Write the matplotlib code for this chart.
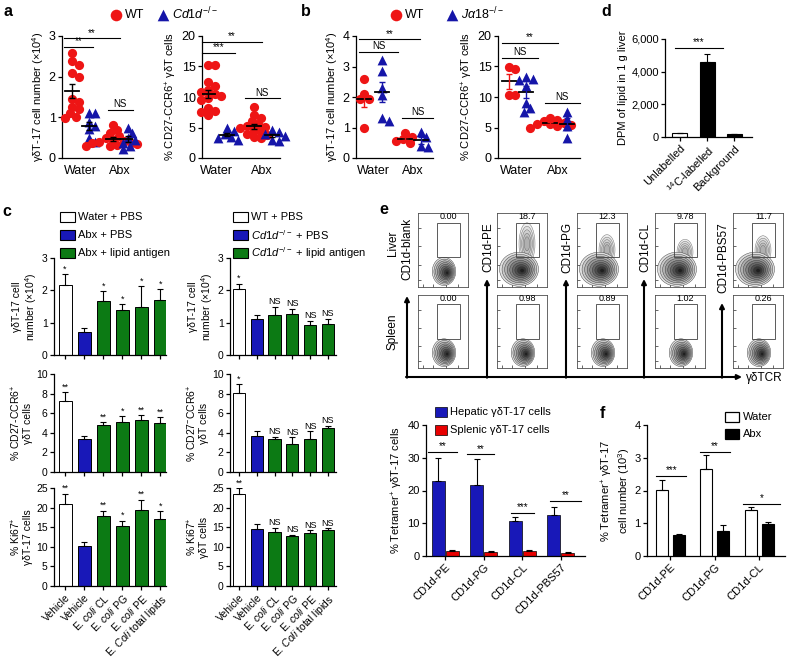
import numpy as np
import matplotlib
matplotlib.use("Agg")
import matplotlib.pyplot as plt
from matplotlib.patches import Rectangle, Ellipse

plt.rcParams['font.family'] = ['Liberation Sans', 'DejaVu Sans']
plt.rcParams['mathtext.fontset'] = 'custom'
plt.rcParams['mathtext.rm'] = 'Liberation Sans'
plt.rcParams['mathtext.it'] = 'Liberation Sans:italic'
plt.rcParams['mathtext.bf'] = 'Liberation Sans:bold'
plt.rcParams['axes.linewidth'] = 0.9

W, H = 788, 660
RED = '#ee1515'
BLUE = '#1515a8'
BARBLUE = '#1818b8'
GREEN = '#0c7a14'

# ---------------- data ----------------
groups_ab = ['Water', 'Abx']

# panel a (WT vs Cd1d-/-)
a1_wt_water = [2.58, 2.38, 2.28, 2.1, 2.0, 1.45, 1.37, 1.25, 1.2, 1.1, 1.0, 0.98]
a1_ko_water = [1.1, 1.1, 0.88, 0.78, 0.72, 0.5, 0.4]
a1_wt_abx = [0.82, 0.7, 0.62, 0.55, 0.5, 0.45, 0.42, 0.4, 0.38, 0.36, 0.35, 0.33, 0.3, 0.3]
a1_ko_abx = [0.75, 0.62, 0.5, 0.45, 0.38, 0.3, 0.22]
a2_wt_water = [15.2, 15.2, 12.4, 11.8, 11.2, 10.8, 10.5, 10.2, 9.8, 9.5, 8.2, 7.7, 7.5, 7.0]
a2_ko_water = [4.9, 4.5, 3.9, 3.5, 3.2, 3.0]
a2_wt_abx = [8.4, 7.1, 6.6, 6.1, 5.6, 5.3, 5.1, 4.9, 4.6, 4.3, 4.0, 3.8, 3.5, 3.2]
a2_ko_abx = [4.6, 4.3, 4.0, 3.6, 3.0, 2.8]

# panel b (WT vs Ja18-/-)
b1_wt_water = [2.6, 2.1, 1.95, 1.95, 1.0]
b1_ko_water = [3.2, 2.85, 2.3, 2.05, 1.3, 1.2]
b1_wt_abx = [0.82, 0.7, 0.62, 0.55, 0.5]
b1_ko_abx = [0.85, 0.7, 0.4, 0.35]
b2_wt_water = [14.9, 14.6, 10.4, 10.4]
b2_ko_water = [13.3, 13.0, 12.8, 11.8, 9.0, 8.2, 7.5]
b2_wt_abx = [6.6, 6.3, 6.0, 5.8, 5.6, 5.5, 5.4, 5.2, 5.0]
b2_ko_abx = [7.6, 6.4, 5.2, 3.2]

# panel d
d_labels = ['Unlabelled', r'$^{14}$C-labelled', 'Background']
d_vals = [250, 4580, 180]
d_errs = [20, 520, 20]

# panel c
c_labels = ['Vehicle', 'Vehicle', r'E. $\mathit{coli}$ CL', r'E. $\mathit{coli}$ PG',
            r'E. $\mathit{coli}$ PE', r'E. $\mathit{Coli}$ total lipids']
c_legend_left = ['Water + PBS', 'Abx + PBS', 'Abx + lipid antigen']
c_legend_right = ['WT + PBS', r'$\mathit{Cd1d}^{-/-}$ + PBS', r'$\mathit{Cd1d}^{-/-}$ + lipid antigen']
c1_vals = [2.17, 0.70, 1.68, 1.40, 1.50, 1.70]
c1_errs = [0.33, 0.15, 0.30, 0.17, 0.62, 0.33]
c1_sig = ['*', '', '*', '*', '*', '*']
c2_vals = [7.2, 3.4, 4.8, 5.1, 5.35, 5.0]
c2_errs = [0.95, 0.25, 0.3, 0.6, 0.45, 0.6]
c2_sig = ['**', '', '**', '*', '**', '**']
c3_vals = [20.9, 10.3, 17.9, 15.3, 19.5, 17.2]
c3_errs = [2.6, 0.8, 1.3, 1.4, 2.5, 1.9]
c3_sig = ['**', '', '**', '*', '**', '*']
c4_vals = [2.05, 1.10, 1.25, 1.28, 0.93, 0.97]
c4_errs = [0.15, 0.15, 0.25, 0.15, 0.12, 0.15]
c4_sig = ['*', '', 'NS', 'NS', 'NS', 'NS']
c5_vals = [8.1, 3.7, 3.4, 2.9, 3.4, 4.5]
c5_errs = [0.85, 0.45, 0.2, 0.65, 0.75, 0.2]
c5_sig = ['*', '', 'NS', 'NS', 'NS', 'NS']
c6_vals = [23.5, 14.5, 13.7, 12.7, 13.5, 14.4]
c6_errs = [1.4, 1.4, 1.1, 0.3, 0.7, 0.3]
c6_sig = ['**', '', 'NS', 'NS', 'NS', 'NS']

# panel e (flow)
flow_stains = ['CD1d-blank', 'CD1d-PE', 'CD1d-PG', 'CD1d-CL', 'CD1d-PBS57']
liver_pct = [0.00, 18.7, 12.3, 9.78, 11.7]
spleen_pct = [0.00, 0.98, 0.89, 1.02, 0.26]

# panel e (bars)
e_labels = ['CD1d-PE', 'CD1d-PG', 'CD1d-CL', 'CD1d-PBS57']
e_hepatic = [23.0, 21.8, 10.7, 12.4]
e_hepatic_err = [7.0, 7.8, 1.3, 2.6]
e_splenic = [1.4, 1.2, 1.5, 1.0]
e_splenic_err = [0.3, 0.3, 0.3, 0.2]
e_sig = ['**', '**', '***', '**']

# panel f
f_labels = ['CD1d-PE', 'CD1d-PG', 'CD1d-CL']
f_water = [2.02, 2.65, 1.40]
f_water_err = [0.30, 0.42, 0.10]
f_abx = [0.63, 0.75, 0.97]
f_abx_err = [0.04, 0.20, 0.08]
f_sig = ['***', '**', '*']

fig = plt.figure(figsize=(W / 100, H / 100), dpi=100)


def px_axes(x0, y0, x1, y1):
    return fig.add_axes([x0 / W, 1 - y1 / H, (x1 - x0) / W, (y1 - y0) / H])


def style(ax, fs=8):
    for s in ['top', 'right']:
        ax.spines[s].set_visible(False)
    ax.tick_params(direction='out', length=3, width=0.9, labelsize=fs, pad=1.5)


def sig_line(ax, x0, x1, y, txt, fs=7):
    ax.plot([x0, x1], [y, y], color='k', lw=0.8, clip_on=False)
    ax.annotate(txt, ((x0 + x1) / 2, y), xytext=(0, 0.5), textcoords='offset points',
                ha='center', va='bottom', fontsize=fs, annotation_clip=False)


def swarm_x(ax, vals, center, d=7.5):
    pos = ax.get_position()
    x0, x1 = ax.get_xlim()
    y0, y1 = ax.get_ylim()
    sx = pos.width * W / (x1 - x0)
    sy = pos.height * H / (y1 - y0)
    placed = []
    xs = []
    for v in vals:
        yp = v * sy
        for k in range(80):
            off = ((k + 1) // 2) * d * 0.3 * (1 if k % 2 else -1)
            if all(np.hypot(off - px, yp - py) >= d * 0.85 for px, py in placed):
                break
        placed.append((off, yp))
        xs.append(center + off / sx)
    return xs, sx


def scatter_panel(ax, groups, ymax, yticks, xlim, ylabel, color_err=False):
    style(ax, 9)
    ax.set_xlim(*xlim)
    ax.set_ylim(0, ymax)
    ax.set_yticks(yticks)
    ax.set_xticks([1, 2])
    ax.set_xticklabels(groups_ab)
    ax.tick_params(axis='x', length=0, pad=5)
    ax.set_ylabel(ylabel, fontsize=8, labelpad=2)
    for vals, c, col, mk in groups:
        xs, sx = swarm_x(ax, vals, c)
        ax.scatter(xs, vals, s=44 if mk == 'o' else 50, c=col, marker=mk, linewidths=0,
                   zorder=3, clip_on=False)
        m = np.mean(vals)
        sem = np.std(vals, ddof=1) / np.sqrt(len(vals))
        half = 7 / sx
        ax.plot([c - half, c + half], [m, m], color='k', lw=1.3, zorder=4)
        ax.errorbar(c, m, yerr=sem, fmt='none', ecolor=col if color_err else 'k',
                    elinewidth=1, capsize=2.5, capthick=1, zorder=4)


def bar_panel(ax, vals, errs, stars, ymax, yticks, xlim, ylabel, xlabels=None):
    style(ax, 7.5)
    colors = ['white', BARBLUE, GREEN, GREEN, GREEN, GREEN]
    x = np.arange(len(vals))
    ax.bar(x, vals, width=0.68, color=colors, edgecolor='k', lw=0.7, zorder=2)
    ax.errorbar(x, vals, yerr=[np.zeros(len(vals)), errs], fmt='none', ecolor='k',
                elinewidth=0.8, capsize=2.5, capthick=0.8, zorder=3)
    for xi, v, e, s in zip(x, vals, errs, stars):
        if s:
            ax.annotate(s, (xi, v + e), xytext=(0, 0.5), textcoords='offset points',
                        ha='center', va='bottom', fontsize=6.5)
    ax.set_xlim(*xlim)
    ax.set_ylim(0, ymax)
    ax.set_yticks(yticks)
    ax.set_xticks(x)
    if xlabels is None:
        ax.set_xticklabels([])
    else:
        ax.set_xticklabels(xlabels, rotation=45, ha='right', rotation_mode='anchor', fontsize=7.5)
    ax.set_ylabel(ylabel, fontsize=7.5, labelpad=2, linespacing=1.1)


# ---------------- panel a ----------------
ax = px_axes(62, 36, 133, 158)
scatter_panel(ax, [(a1_wt_water, 0.8, RED, 'o'), (a1_ko_water, 1.22, BLUE, '^'),
                   (a1_wt_abx, 1.82, RED, 'o'), (a1_ko_abx, 2.2, BLUE, '^')],
              3, [0, 1, 2, 3], (0.55, 2.33), r'γδT-17 cell number (×10$^{4}$)')
sig_line(ax, 0.6, 2.0, 2.94, '**')
sig_line(ax, 0.6, 1.33, 2.74, '**')
sig_line(ax, 1.7, 2.33, 1.19, 'NS')

ax = px_axes(202, 36, 280, 158)
scatter_panel(ax, [(a2_wt_water, 0.8, RED, 'o'), (a2_ko_water, 1.22, BLUE, '^'),
                   (a2_wt_abx, 1.82, RED, 'o'), (a2_ko_abx, 2.22, BLUE, '^')],
              20, [0, 5, 10, 15, 20], (0.67, 2.4), r'% CD27-CCR6$^{+}$ γδT cells')
sig_line(ax, 0.67, 2.0, 19.0, '**')
sig_line(ax, 0.67, 1.4, 17.2, '***')
sig_line(ax, 1.62, 2.4, 9.8, 'NS')

# ---------------- panel b ----------------
ax = px_axes(356, 36, 433, 158)
scatter_panel(ax, [(b1_wt_water, 0.78, RED, 'o'), (b1_ko_water, 1.22, BLUE, '^'),
                   (b1_wt_abx, 1.8, RED, 'o'), (b1_ko_abx, 2.2, BLUE, '^')],
              4, [0, 1, 2, 3, 4], (0.575, 2.5), r'γδT-17 cell number (×10$^{4}$)', color_err=True)
sig_line(ax, 0.65, 2.18, 3.89, '**')
sig_line(ax, 0.65, 1.63, 3.49, 'NS')
sig_line(ax, 1.73, 2.5, 1.31, 'NS')

ax = px_axes(498, 36, 580, 158)
scatter_panel(ax, [(b2_wt_water, 0.8, RED, 'o'), (b2_ko_water, 1.22, BLUE, '^'),
                   (b2_wt_abx, 1.82, RED, 'o'), (b2_ko_abx, 2.22, BLUE, '^')],
              20, [0, 5, 10, 15, 20], (0.54, 2.54), r'% CD27-CCR6$^{+}$ γδT cells', color_err=True)
sig_line(ax, 0.63, 2.0, 18.9, '**')
sig_line(ax, 0.63, 1.51, 16.4, 'NS')
sig_line(ax, 1.68, 2.54, 9.0, 'NS')

# ---------------- panel d ----------------
ax = px_axes(665, 39, 752, 137)
style(ax, 8)
xd = np.arange(3)
ax.bar(xd, d_vals, width=0.55, color=['white', 'black', 'black'], edgecolor='k', lw=0.8)
ax.errorbar(xd, d_vals, yerr=[np.zeros(3), d_errs], fmt='none', ecolor='k',
            elinewidth=0.8, capsize=2.5, capthick=0.8)
ax.set_xlim(-0.55, 2.65)
ax.set_ylim(0, 6000)
ax.set_yticks([0, 2000, 4000, 6000])
ax.set_yticklabels(['{:,}'.format(v) for v in [0, 2000, 4000, 6000]])
ax.set_xticks(xd)
ax.set_xticklabels(d_labels, rotation=45, ha='right', rotation_mode='anchor', fontsize=8)
ax.set_ylabel('DPM of lipid in 1 g liver', fontsize=8, labelpad=2)
sig_line(ax, -0.2, 1.6, 5450, '***')

# ---------------- panel c ----------------
bar_panel(px_axes(54, 258, 166, 355), c1_vals, c1_errs, c1_sig, 3, [0, 1, 2, 3], (-0.58, 5.3),
          'γδT-17 cell\n' + r'number (×10$^{4}$)')
bar_panel(px_axes(54, 374, 166, 472), c2_vals, c2_errs, c2_sig, 10, [0, 2, 4, 6, 8, 10], (-0.58, 5.3),
          r'% CD27-CCR6$^{+}$' + '\nγδT cells')
bar_panel(px_axes(54, 488, 166, 586), c3_vals, c3_errs, c3_sig, 25, [0, 5, 10, 15, 20, 25], (-0.58, 5.3),
          r'% Ki67$^{+}$' + '\nγδT-17 cells', xlabels=c_labels)
bar_panel(px_axes(230, 258, 336, 355), c4_vals, c4_errs, c4_sig, 3, [0, 1, 2, 3], (-0.5, 5.45),
          'γδT-17 cell\n' + r'number (×10$^{4}$)')
bar_panel(px_axes(230, 374, 336, 472), c5_vals, c5_errs, c5_sig, 10, [0, 2, 4, 6, 8, 10], (-0.5, 5.45),
          r'% CD27$^{-}$CCR6$^{+}$' + '\nγδT cells')
bar_panel(px_axes(230, 488, 336, 586), c6_vals, c6_errs, c6_sig, 25, [0, 5, 10, 15, 20, 25], (-0.5, 5.45),
          r'% Ki67$^{+}$' + '\nγδT cells', xlabels=c_labels)

# ---------------- panel e: flow plots ----------------
def flow_blob(ax, cx, cy, w, h, n=9):
    for k in range(n):
        f = 1 - k / n
        g = 0.88 - 0.76 * k / (n - 1)
        ax.add_patch(Ellipse((cx + 0.07 * (1 - f), cy - 0.02 * (1 - f)), w * f, h * f,
                             transform=ax.transAxes, fc=str(g), ec='0.2', lw=0.3, zorder=2))


def flow_lobe(ax, pct):
    hgt = 0.1 + pct / 40
    for k in range(5):
        f = 1 - k / 6
        ax.add_patch(Ellipse((0.6, 0.3 + hgt / 2), 0.32 * f, hgt * f, transform=ax.transAxes,
                             fc=str(0.93 - 0.06 * k), ec='0.4', lw=0.3, zorder=1))


def pct_txt(v):
    return '{:.2f}'.format(v) if v < 10 else '{:.1f}'.format(v)


flow_x = [418, 497, 577, 655, 733]
for i, name in enumerate(flow_stains):
    for row, pcts, top, bot in [(0, liver_pct, 213, 287), (1, spleen_pct, 295, 368)]:
        fa = px_axes(flow_x[i], top, flow_x[i] + 50, bot)
        fa.set_xlim(0, 1)
        fa.set_ylim(0, 1)
        for s in fa.spines.values():
            s.set_linewidth(0.6)
            s.set_color('0.3')
        fa.set_xticks([0.1, 0.3, 0.55, 0.8])
        fa.set_yticks([0.1, 0.3, 0.55, 0.8])
        fa.set_xticklabels([])
        fa.set_yticklabels([])
        fa.tick_params(direction='in', length=2, width=0.6, color='0.3')
        v = pcts[i]
        if row == 0 and v > 5:
            flow_lobe(fa, v)
        if row == 0 and i > 0:
            flow_blob(fa, 0.44, 0.24, 0.78, 0.46)
        else:
            flow_blob(fa, 0.52, 0.21, 0.47, 0.38)
        fa.add_patch(Rectangle((0.38, 0.40), 0.46, 0.47, transform=fa.transAxes,
                               fill=False, ec='0.25', lw=0.6, zorder=3))
        fa.text(0.61, 0.89, pct_txt(v), transform=fa.transAxes, ha='center', va='bottom',
                fontsize=6.5)

# ---------------- panel e: bars ----------------
ax = px_axes(426, 425, 585, 556)
style(ax, 8)
xe = np.arange(4)
ax.bar(xe - 0.18, e_hepatic, 0.34, color=BARBLUE, edgecolor='k', lw=0.5)
ax.bar(xe + 0.18, e_splenic, 0.34, color='#e80000', edgecolor='k', lw=0.5)
ax.errorbar(xe - 0.18, e_hepatic, yerr=[np.zeros(4), e_hepatic_err], fmt='none', ecolor='k',
            elinewidth=0.8, capsize=2.5, capthick=0.8)
ax.errorbar(xe + 0.18, e_splenic, yerr=[np.zeros(4), e_splenic_err], fmt='none', ecolor='k',
            elinewidth=0.8, capsize=2.5, capthick=0.8)
ax.set_xlim(-0.5, 3.63)
ax.set_ylim(0, 40)
ax.set_yticks([0, 10, 20, 30, 40])
ax.set_xticks(xe)
ax.set_xticklabels(e_labels, rotation=45, ha='right', rotation_mode='anchor', fontsize=8)
ax.set_ylabel(r'% Tetramer$^{+}$ γδT-17 cells', fontsize=8, labelpad=2)
for (x0, x1, y), s in zip([(-0.44, 0.31, 31.7), (0.57, 1.26, 31.0), (1.7, 2.3, 13.2), (2.72, 3.52, 16.8)], e_sig):
    sig_line(ax, x0, x1, y, s)

# ---------------- panel f ----------------
ax = px_axes(647, 425, 785, 556)
style(ax, 8)
xf = np.arange(3)
ax.bar(xf - 0.19, f_water, 0.27, color='white', edgecolor='k', lw=0.8)
ax.bar(xf + 0.19, f_abx, 0.27, color='black', edgecolor='k', lw=0.8)
ax.errorbar(xf - 0.19, f_water, yerr=[np.zeros(3), f_water_err], fmt='none', ecolor='k',
            elinewidth=0.8, capsize=2.5, capthick=0.8)
ax.errorbar(xf + 0.19, f_abx, yerr=[np.zeros(3), f_abx_err], fmt='none', ecolor='k',
            elinewidth=0.8, capsize=2.5, capthick=0.8)
ax.set_xlim(-0.52, 2.58)
ax.set_ylim(0, 4)
ax.set_yticks([0, 1, 2, 3, 4])
ax.set_xticks(xf)
ax.set_xticklabels(f_labels, rotation=45, ha='right', rotation_mode='anchor', fontsize=8)
ax.set_ylabel(r'% Tetramer$^{+}$ γδT-17' + '\n' + r'cell number (10$^{3}$)', fontsize=8,
              labelpad=2, linespacing=1.1)
for (x0, x1, y), s in zip([(-0.31, 0.36, 2.44), (0.67, 1.35, 3.18), (1.64, 2.47, 1.59)], f_sig):
    sig_line(ax, x0, x1, y, s)

# ---------------- overlay: letters, legends, arrows ----------------
ov = fig.add_axes([0, 0, 1, 1])
ov.set_xlim(0, W)
ov.set_ylim(H, 0)
ov.axis('off')

for letter, (lx, ly) in zip('abcdef', [(8, 12), (306, 11), (7, 211), (606, 11), (384, 210), (602, 413)]):
    ov.text(lx, ly, letter, fontsize=11.5, fontweight='bold', ha='center', va='center')

# legends a, b
for (cx, tx_lbl, cx2, ko_lbl) in [(116, 'WT', 163, r'$\mathit{Cd1d}^{-/-}$'),
                                   (396, 'WT', 452, r'$\mathit{J\alpha18}^{-/-}$')]:
    ov.scatter([cx], [15], s=70, c=RED, marker='o', linewidths=0)
    ov.text(cx + 9, 15, tx_lbl, fontsize=9, va='center')
    ov.scatter([cx2], [15], s=70, c=BLUE, marker='^', linewidths=0)
    ov.text(cx2 + 9, 14, ko_lbl, fontsize=9, va='center')

# legends c
for bx, labels in [(60, c_legend_left), (233, c_legend_right)]:
    for lbl, col, yc in zip(labels, ['white', BARBLUE, GREEN], [217, 235, 253]):
        ov.add_patch(Rectangle((bx, yc - 5), 15, 10, fc=col, ec='k', lw=0.8))
        ov.text(bx + 18, yc, lbl, fontsize=8, va='center')

# legend e
for lbl, col, yc in zip(['Hepatic γδT-17 cells', 'Splenic γδT-17 cells'], [BARBLUE, '#e80000'], [412, 430]):
    ov.add_patch(Rectangle((435, yc - 5), 12, 10, fc=col, ec='k', lw=0.5))
    ov.text(450, yc, lbl, fontsize=8, va='center')

# legend f
for lbl, col, yc in zip(['Water', 'Abx'], ['white', 'black'], [417, 434]):
    ov.add_patch(Rectangle((725, yc - 5), 14, 10, fc=col, ec='k', lw=0.9))
    ov.text(743, yc, lbl, fontsize=8, va='center')

# flow arrows and labels
arrow_kw = dict(arrowstyle='-|>', lw=1.5, color='k', mutation_scale=7, shrinkA=0, shrinkB=0)
ov.annotate('', xy=(742, 377), xytext=(406, 377), arrowprops=arrow_kw)
ov.text(746, 378, 'γδTCR', fontsize=8.5, va='center')
for ax_x, tip in zip([407, 487, 566, 644, 722], [296, 279, 279, 279, 303]):
    ov.annotate('', xy=(ax_x, tip), xytext=(ax_x, 377.7), arrowprops=arrow_kw)
for lbl, lx, ly in zip(flow_stains, [407, 488, 567, 645, 723], [249, 247, 247, 247, 258]):
    ov.text(lx, ly, lbl, rotation=90, fontsize=8.5, ha='center', va='center')
ov.text(393, 243, 'Liver', rotation=90, fontsize=8.5, ha='center', va='center')
ov.text(393, 332, 'Spleen', rotation=90, fontsize=8.5, ha='center', va='center')

fig.savefig('out.png', dpi=100)
